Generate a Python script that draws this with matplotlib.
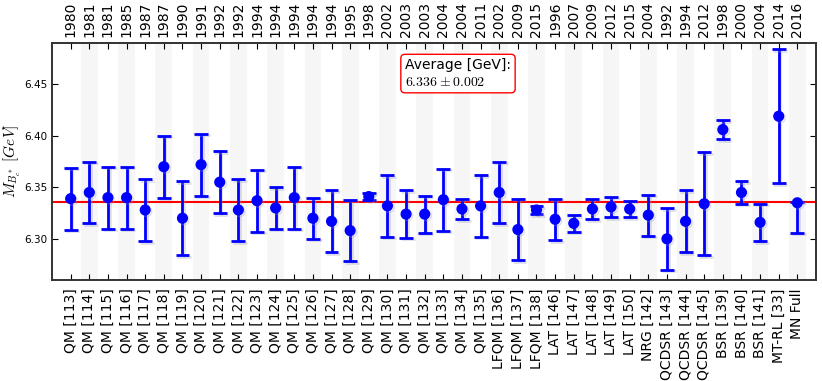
import matplotlib
matplotlib.use("Agg")
import matplotlib.pyplot as plt
import matplotlib.patheffects as pe
import numpy as np

plt.rcParams['mathtext.fontset'] = 'cm'
plt.rcParams['font.family'] = ['DejaVu Sans']

labels = ["QM [113]", "QM [114]", "QM [115]", "QM [116]", "QM [117]", "QM [118]",
          "QM [119]", "QM [120]", "QM [121]", "QM [122]", "QM [123]", "QM [124]",
          "QM [125]", "QM [126]", "QM [127]", "QM [128]", "QM [129]", "QM [130]",
          "QM [131]", "QM [132]", "QM [133]", "QM [134]", "QM [135]", "LFQM [136]",
          "LFQM [137]", "LFQM [138]", "LAT [146]", "LAT [147]", "LAT [148]",
          "LAT [149]", "LAT [150]", "NRG [142]", "QCDSR [143]", "QCDSR [144]",
          "QCDSR [145]", "BSR [139]", "BSR [140]", "BSR [141]", "MT-RL [33]", "MN Full"]
years = ["1980", "1981", "1981", "1985", "1987", "1987", "1990", "1991", "1992", "1992",
         "1994", "1994", "1994", "1994", "1994", "1995", "1998", "2002", "2003", "2003",
         "2004", "2004", "2011", "2002", "2009", "2015", "1996", "2007", "2009", "2012",
         "2015", "2004", "1992", "1994", "2012", "1998", "2000", "2004", "2014", "2016"]
values = [6.339, 6.345, 6.340, 6.340, 6.328, 6.370, 6.320, 6.372, 6.355, 6.328,
          6.337, 6.330, 6.340, 6.320, 6.317, 6.308, 6.341, 6.332, 6.324, 6.324,
          6.338, 6.329, 6.332, 6.345, 6.309, 6.328, 6.319, 6.315, 6.329, 6.331,
          6.329, 6.323, 6.300, 6.317, 6.334, 6.406, 6.345, 6.316, 6.419, 6.335]
err_low = [0.030, 0.030, 0.030, 0.030, 0.030, 0.030, 0.036, 0.030, 0.030, 0.030,
           0.030, 0.020, 0.030, 0.020, 0.030, 0.030, 0.003, 0.030, 0.023, 0.018,
           0.030, 0.010, 0.030, 0.030, 0.030, 0.004, 0.020, 0.008, 0.010, 0.010,
           0.008, 0.020, 0.030, 0.030, 0.050, 0.009, 0.011, 0.018, 0.065, 0.029]
err_high = [0.030, 0.030, 0.030, 0.030, 0.030, 0.030, 0.036, 0.030, 0.030, 0.030,
            0.030, 0.020, 0.030, 0.020, 0.030, 0.030, 0.003, 0.030, 0.023, 0.018,
            0.030, 0.010, 0.030, 0.030, 0.030, 0.004, 0.020, 0.008, 0.010, 0.010,
            0.008, 0.020, 0.030, 0.030, 0.050, 0.009, 0.011, 0.018, 0.065, 0.001]
average = 6.336
average_err = 0.002

n = len(values)
x = np.arange(n)

fig = plt.figure(figsize=(8.22, 3.81), dpi=100)
ax = fig.add_axes([0.0633, 0.265, 0.9294, 0.622])

for i in x:
    if i % 2 == 1:
        ax.axvspan(i - 0.45, i + 0.45, color='#f6f6f6', lw=0, zorder=0)

shadow = [pe.SimpleLineShadow(offset=(1.2, -1.2), shadow_color='#9999bb', alpha=0.3), pe.Normal()]
eb = ax.errorbar(x, values, yerr=[err_low, err_high], fmt='o', color='blue',
                 ecolor='blue', elinewidth=2, capsize=5, capthick=2, markersize=7,
                 zorder=3)
eb[0].set_path_effects(shadow)
for c in eb[1]:
    c.set_path_effects(shadow)
for l in eb[2]:
    l.set_path_effects(shadow)

ax.axhline(average, color='red', lw=1.5, zorder=2)

ax.set_xlim(-1, n)
ax.set_ylim(6.26, 6.49)
ax.set_xticks(x)
ax.set_xticklabels(labels, rotation=90, fontsize=10)
ax.set_yticks([6.30, 6.35, 6.40, 6.45])
ax.set_yticklabels(["6.30", "6.35", "6.40", "6.45"], fontsize=7.5)
ax.tick_params(axis='both', direction='in', top=False, right=True, length=4)
ax.tick_params(axis='x', pad=6)
ax.set_ylabel(r'$M_{B_c^*}\ [GeV]$', fontsize=11, labelpad=1)

ax2 = ax.twiny()
ax2.set_xlim(ax.get_xlim())
ax2.set_xticks(x)
ax2.set_xticklabels(years, rotation=90, fontsize=10)
ax2.tick_params(axis='x', direction='in', length=4, pad=4)

for s in list(ax.spines.values()) + list(ax2.spines.values()):
    s.set_color('#333333')
    s.set_linewidth(1.2)

ax.text(0.462, 0.935, "Average [GeV]:\n" + r"$%.3f \pm %.3f$" % (average, average_err),
        transform=ax.transAxes, va='top', ha='left', fontsize=10,
        bbox=dict(boxstyle='round,pad=0.3', fc='white', ec='red', lw=1))

fig.savefig("out.png", dpi=100)
